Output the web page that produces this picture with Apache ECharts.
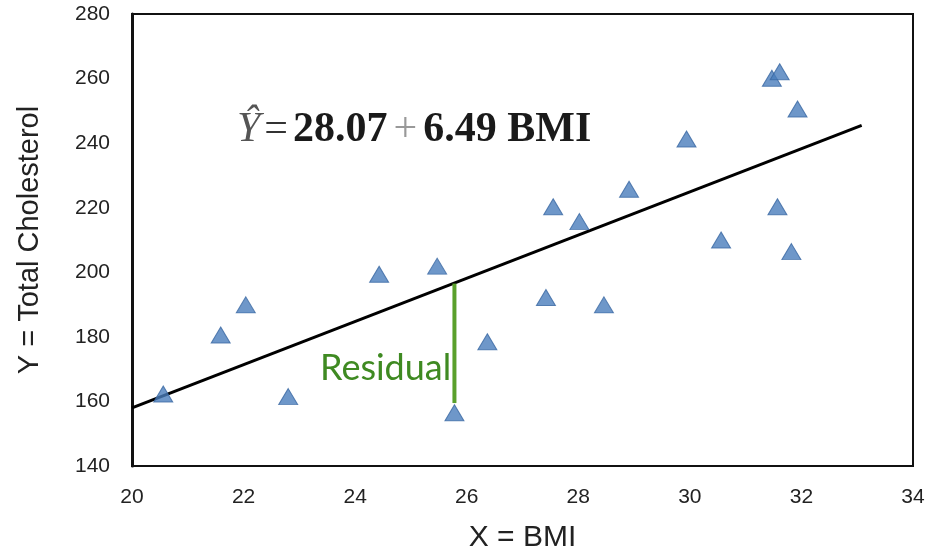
<!DOCTYPE html>
<html>
	<head>
		<meta charset="utf-8">
		<title>BMI vs Total Cholesterol</title>
		<script src="https://cdn.jsdelivr.net/npm/echarts@6/dist/echarts.min.js"></script>
		<style>
			html, body { margin: 0; padding: 0; background: #fff; }
		</style>
	</head>
	<body>
		<div id="main" style="width: 935px;height:554px;"></div>
		<script type="text/javascript">
			// 散点: BMI 与 总胆固醇
			var bmi = [20.56, 21.59, 22.04, 22.80, 24.43, 25.47, 25.78, 26.37, 27.42, 27.55,
			           28.02, 28.46, 28.91, 29.94, 30.56, 31.47, 31.61, 31.57, 31.82, 31.93];
			var chol = [162.3, 180.6, 189.9, 161.5, 199.4, 201.9, 156.5, 178.5, 192.2, 220.3,
			            215.7, 189.9, 225.7, 241.3, 210.0, 260.1, 262.1, 220.3, 206.4, 250.6];
			// 回归直线的两端
			var fitLine = [[20, 158], [33.08, 245.5]];
			// 残差线
			var residualLine = [[25.78, 196.5], [25.78, 159.5]];
			var xTicks = [20, 22, 24, 26, 28, 30, 32, 34];
			var yTicks = [140, 160, 180, 200, 220, 240, 260, 280];

			var points = bmi.map(function (x, i) { return [x, chol[i]]; });

			var myChart = echarts.init(document.getElementById('main'));
			var option = {
				animation: false,
				grid: {
					left: 132,
					top: 14,
					width: 781,
					height: 452,
					outerBoundsMode: 'none',
					containLabel: false,
					show: true,
					borderColor: '#111',
					borderWidth: 2
				},
				xAxis: {
					type: 'value',
					min: xTicks[0],
					max: xTicks[xTicks.length - 1],
					interval: 2,
					name: 'X = BMI',
					nameLocation: 'middle',
					nameGap: 57,
					nameTextStyle: { fontFamily: 'Liberation Sans', fontSize: 30, color: '#222' },
					axisLine: { lineStyle: { color: '#111', width: 2 } },
					axisTick: { show: false },
					splitLine: { show: false },
					axisLabel: { margin: 21, fontFamily: 'Liberation Sans', fontSize: 21, color: '#222' }
				},
				yAxis: {
					type: 'value',
					min: yTicks[0],
					max: yTicks[yTicks.length - 1],
					interval: 20,
					name: 'Y = Total Cholesterol',
					nameLocation: 'middle',
					nameGap: 88,
					nameTextStyle: { fontFamily: 'Liberation Sans', fontSize: 29, color: '#222' },
					axisLine: { show: true, lineStyle: { color: '#111', width: 3 } },
					axisTick: { show: false },
					splitLine: { show: false },
					axisLabel: { margin: 22, fontFamily: 'Liberation Sans', fontSize: 21, color: '#222' }
				},
				series: [
					{
						type: 'line',
						data: fitLine,
						showSymbol: false,
						lineStyle: { color: '#000', width: 3 },
						z: 2
					},
					{
						type: 'line',
						data: residualLine,
						showSymbol: false,
						lineStyle: { color: '#5aa02c', width: 4 },
						z: 3
					},
					{
						type: 'scatter',
						data: points,
						symbol: 'triangle',
						symbolSize: [19, 16],
						itemStyle: { color: '#4a7dbb', borderColor: '#3a68a3', borderWidth: 1 },
						z: 4
					}
				],
				graphic: [
					{
						type: 'text',
						left: 237,
						top: 109,
						style: {
							text: '{y|Ŷ}{eq|=}{n|28.07}{p|+}{n|6.49 BMI}',
							rich: {
								y: { fontFamily: 'Liberation Serif', fontStyle: 'italic', fontSize: 42, fill: '#555', padding: [0, 4, 0, 0] },
								eq: { fontFamily: 'Liberation Serif', fontSize: 42, fill: '#333', padding: [0, 5, 0, 0] },
								n: { fontFamily: 'Liberation Serif', fontWeight: 'bold', fontSize: 42, fill: '#1a1a1a' },
								p: { fontFamily: 'Liberation Serif', fontSize: 42, fill: '#999', padding: [0, 6, 0, 6] }
							}
						}
					},
					{
						type: 'text',
						left: 320,
						top: 350,
						style: {
							text: 'Residual',
							fontFamily: 'Lato',
							fontSize: 36,
							fill: '#3f8a22'
						}
					}
				]
			};
			option && myChart.setOption(option);
		</script>
	</body>
</html>
